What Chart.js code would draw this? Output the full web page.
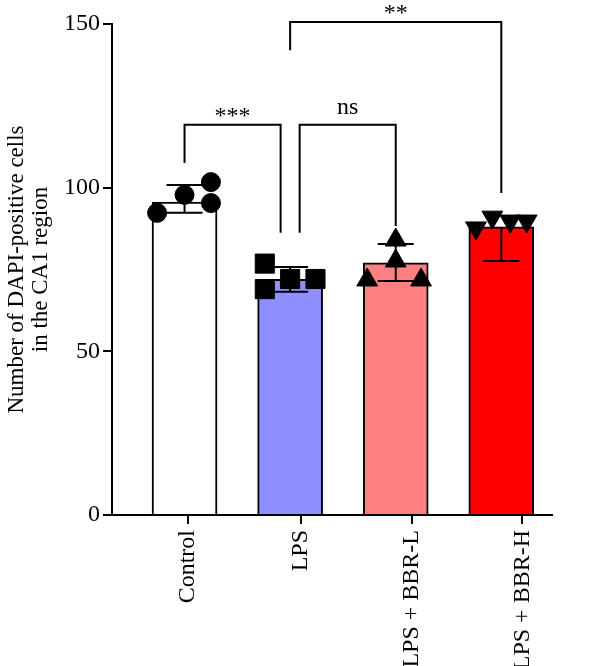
<!DOCTYPE html>
<html lang="en">
<head>
<meta charset="UTF-8">
<title>DAPI-positive cells in CA1</title>
<script src="https://cdn.jsdelivr.net/npm/chart.js"></script>
<style>
  body { margin: 0; background: #fff; }
  canvas { display: block; }
</style>
</head>
<body>
<canvas id="dapiChart" width="600" height="666"></canvas>
<script>
  // data
  const groups = ['Control', 'LPS', 'LPS + BBR-L', 'LPS + BBR-H'];
  const means = [95.6, 72.0, 77.0, 88.0];
  const errLow = [92.3, 68.2, 71.5, 77.6];
  const errHigh = [100.8, 75.8, 82.8, 88.0];
  const ptsControl = [92.3, 97.8, 101.7, 95.3];
  const ptsLps = [76.8, 69.0, 72.1, 72.1];
  const ptsBbrL = [84.0, 77.6, 71.8, 71.8];
  const ptsBbrH = [87.7, 91.0, 89.8, 89.8];
  const yTicks = [0, 50, 100, 150];

  // significance brackets (x in group units, y in data units)
  const sigLabels = ['***', 'ns', '**'];
  const sigFrom = [0, 1.09, 1];
  const sigTo = [0.91, 2, 3];
  const sigTop = [119.2, 119.2, 150.6];
  const sigLegLeft = [107.5, 86.2, 142];
  const sigLegRight = [86.2, 88.3, 98.4];

  // look
  const serif = "'Liberation Serif', 'DejaVu Serif', serif";
  const barColors = ['#ffffff', '#8f8fff', '#ff8080', '#ff0000'];
  const jitter = [
    [-0.26, 0, 0.25, 0.25],
    [-0.24, -0.24, 0, 0.24],
    [0, 0, -0.27, 0.24],
    [-0.24, -0.085, 0.085, 0.24]
  ];
  const labelPos = [0.03, 1.1, 2.15, 3.2];
  const markers = [
    { pointStyle: 'circle', radius: 9.5, rotation: 0 },
    { pointStyle: 'rect', radius: 13.5, rotation: 0 },
    { pointStyle: 'triangle', radius: 12, rotation: 0 },
    { pointStyle: 'triangle', radius: 12, rotation: 180 }
  ];
  const pointSets = [ptsControl, ptsLps, ptsBbrL, ptsBbrH];

  const errorBars = {
    id: 'errorBars',
    afterDatasetDraw(chart, args) {
      if (args.index !== 0) return;
      const { ctx, scales: { x, y } } = chart;
      ctx.save();
      ctx.strokeStyle = '#000';
      ctx.lineWidth = 2;
      groups.forEach((g, i) => {
        const px = x.getPixelForValue(i);
        const top = y.getPixelForValue(errHigh[i]);
        const bot = y.getPixelForValue(errLow[i]);
        ctx.beginPath();
        ctx.moveTo(px, top);
        ctx.lineTo(px, bot);
        if (errHigh[i] > means[i]) { ctx.moveTo(px - 18, top); ctx.lineTo(px + 18, top); }
        if (errLow[i] < means[i]) { ctx.moveTo(px - 18, bot); ctx.lineTo(px + 18, bot); }
        ctx.stroke();
      });
      ctx.restore();
    }
  };

  const brackets = {
    id: 'brackets',
    afterDraw(chart) {
      const { ctx, scales: { x, y } } = chart;
      ctx.save();
      ctx.strokeStyle = '#000';
      ctx.fillStyle = '#000';
      ctx.lineWidth = 2;
      ctx.font = '24px ' + serif;
      ctx.textAlign = 'center';
      ctx.textBaseline = 'alphabetic';
      sigLabels.forEach((lab, i) => {
        const x1 = x.getPixelForValue(sigFrom[i]);
        const x2 = x.getPixelForValue(sigTo[i]);
        const yt = y.getPixelForValue(sigTop[i]);
        ctx.beginPath();
        ctx.moveTo(x1, y.getPixelForValue(sigLegLeft[i]));
        ctx.lineTo(x1, yt);
        ctx.lineTo(x2, yt);
        ctx.lineTo(x2, y.getPixelForValue(sigLegRight[i]));
        ctx.stroke();
        const lift = /^\*+$/.test(lab) ? 2 : 11;
        ctx.fillText(lab, (x1 + x2) / 2, yt - lift);
      });
      ctx.restore();
    }
  };

  const datasets = [{
    type: 'bar',
    label: 'mean',
    data: means.map((m, i) => ({ x: i, y: m })),
    backgroundColor: barColors,
    borderColor: '#000',
    borderWidth: 2,
    barThickness: 65,
    order: 2
  }];
  pointSets.forEach((pts, g) => {
    datasets.push({
      type: 'scatter',
      label: groups[g],
      data: pts.map((v, k) => ({ x: g + jitter[g][k], y: v })),
      backgroundColor: '#000',
      borderColor: '#000',
      borderWidth: 1,
      pointStyle: markers[g].pointStyle,
      pointRadius: markers[g].radius,
      rotation: markers[g].rotation,
      clip: false,
      order: 1
    });
  });

  const axisBorder = { display: true, color: '#000', width: 2 };

  const ctx = document.getElementById('dapiChart').getContext('2d');
  const myChart = new Chart(ctx, {
    type: 'bar',
    data: { datasets: datasets },
    plugins: [errorBars, brackets],
    options: {
      responsive: false,
      animation: false,
      layout: { padding: { top: 24, right: 48, left: 0, bottom: 0 } },
      plugins: {
        legend: { display: false },
        tooltip: { enabled: false }
      },
      scales: {
        x: {
          type: 'linear',
          min: -0.687,
          max: 3.48,
          offset: false,
          bounds: 'data',
          afterBuildTicks: s => { s.ticks = labelPos.map(v => ({ value: v })); },
          afterFit: s => { s.height = 151; },
          ticks: {
            autoSkip: false,
            maxRotation: 90,
            minRotation: 90,
            padding: 6,
            color: '#000',
            font: { family: serif, size: 24 },
            callback: (v, i) => groups[i]
          },
          grid: { offset: false, drawOnChartArea: false, drawTicks: true, tickLength: 9, color: '#000', lineWidth: 2 },
          border: axisBorder
        },
        y: {
          min: 0,
          max: 150,
          afterBuildTicks: s => { s.ticks = yTicks.map(v => ({ value: v })); },
          afterFit: s => { s.width = 112; },
          ticks: { padding: 3, color: '#000', font: { family: serif, size: 24 } },
          grid: { drawOnChartArea: false, drawTicks: true, tickLength: 9, color: '#000', lineWidth: 2 },
          border: axisBorder,
          title: {
            display: true,
            text: ['Number of DAPI-positive cells', 'in the CA1 region'],
            color: '#000',
            font: { family: serif, size: 23, lineHeight: 1.05 },
            padding: { top: 5, bottom: 0 }
          }
        }
      }
    }
  });
</script>
</body>
</html>
